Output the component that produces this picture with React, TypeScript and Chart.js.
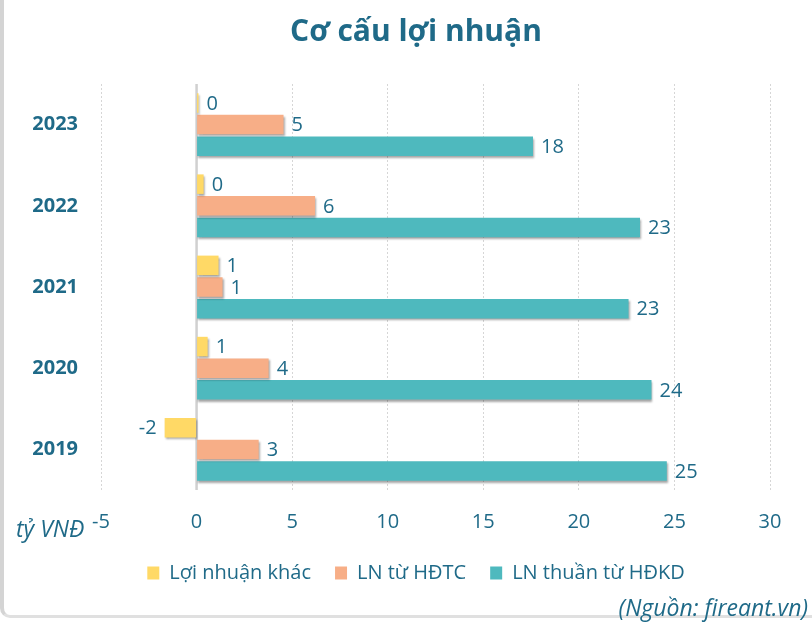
import React, { useEffect, useRef } from "react";
import { Chart, registerables } from "chart.js";

Chart.register(...registerables);

const years = ["2023", "2022", "2021", "2020", "2019"];
const seriesNames = ["Lợi nhuận khác", "LN từ HĐTC", "LN thuần từ HĐKD"];
const otherProfit = [0.1, 0.37, 1.15, 0.58, -1.67];
const financialProfit = [4.55, 6.2, 1.36, 3.77, 3.25];
const operatingProfit = [17.6, 23.2, 22.6, 23.8, 24.6];
const xTicksMin = -5;
const xTicksMax = 30;
const xTickStep = 5;
const titleText = "Cơ cấu lợi nhuận";
const unitText = "tỷ VNĐ";
const sourceText = "(Nguồn: fireant.vn)";

const colors = ["#FFD966", "#F7AE87", "#4EB9BE"];
const textColor = "#1f6a88";
const FONT = "'Open Sans', 'Noto Sans', sans-serif";

export default function App() {
  const ref = useRef<HTMLCanvasElement | null>(null);

  useEffect(() => {
    const canvas = ref.current;
    if (!canvas) return;

    const extras = {
      id: "extras",
      beforeDatasetsDraw(chart: any) {
        const ctx = chart.ctx;
        ctx.save();
        ctx.shadowColor = "rgba(0,0,0,0.35)";
        ctx.shadowOffsetX = 1;
        ctx.shadowOffsetY = 2;
        ctx.shadowBlur = 2;
      },
      afterDatasetsDraw(chart: any) {
        const ctx = chart.ctx;
        ctx.restore();
        ctx.save();
        ctx.font = `20px ${FONT}`;
        ctx.fillStyle = textColor;
        ctx.textBaseline = "middle";
        chart.data.datasets.forEach((ds: any, di: number) => {
          const meta = chart.getDatasetMeta(di);
          meta.data.forEach((el: any, i: number) => {
            const v = ds.data[i] as number;
            const label = String(Math.round(v));
            if (v >= 0) {
              ctx.textAlign = "left";
              ctx.fillText(label, el.x + 8, el.y + 1);
            } else {
              ctx.textAlign = "right";
              ctx.fillText(label, el.x - 8, el.y + 1);
            }
          });
        });
        ctx.restore();
      },
      afterDraw(chart: any) {
        const ctx = chart.ctx;
        ctx.save();
        ctx.fillStyle = textColor;
        ctx.textBaseline = "middle";
        ctx.font = `italic 23px ${FONT}`;
        ctx.textAlign = "left";
        ctx.fillText(unitText, 16, 530);
        ctx.textAlign = "right";
        ctx.fillText(sourceText, 808, 609);
        ctx.restore();
      },
    };

    const zeroLine = {
      id: "zeroLine",
      beforeDatasetsDraw(chart: any) {
        const xs = chart.scales.x;
        const area = chart.chartArea;
        const px = xs.getPixelForValue(0);
        const ctx = chart.ctx;
        ctx.save();
        ctx.strokeStyle = "#d0d0d0";
        ctx.lineWidth = 2.5;
        ctx.beginPath();
        ctx.moveTo(px, area.top);
        ctx.lineTo(px, area.bottom);
        ctx.stroke();
        ctx.restore();
      },
    };

    const chart = new Chart(canvas, {
      type: "bar",
      data: {
        labels: years,
        datasets: [
          { label: seriesNames[0], data: otherProfit, backgroundColor: colors[0] },
          { label: seriesNames[1], data: financialProfit, backgroundColor: colors[1] },
          { label: seriesNames[2], data: operatingProfit, backgroundColor: colors[2] },
        ],
      },
      options: {
        indexAxis: "y",
        responsive: false,
        animation: false,
        devicePixelRatio: 1,
        layout: { padding: { left: 30, right: 10, top: 0, bottom: 29 } },
        datasets: {
          bar: { categoryPercentage: 0.8, barPercentage: 0.9 },
        },
        scales: {
          x: {
            min: xTicksMin,
            max: xTicksMax,
            ticks: {
              stepSize: xTickStep,
              color: textColor,
              font: { family: FONT, size: 20 },
              padding: 20,
            },
            grid: {
              color: "#d6d6d6",
              lineWidth: 1,
              drawTicks: false,
            },
            border: { display: false, dash: [2, 2] },
            afterFit(scale: any) {
              scale.height = 49;
            },
          },
          y: {
            ticks: {
              color: textColor,
              font: { family: FONT, size: 20, weight: "bold" },
              padding: 23,
            },
            grid: { display: false, drawTicks: false },
            border: { display: false },
            afterFit(scale: any) {
              scale.width = 71;
            },
          },
          yRight: {
            type: "category",
            axis: "y",
            position: "right",
            ticks: { display: false },
            grid: { display: false, drawTicks: false },
            border: { display: false },
            afterFit(scale: any) {
              scale.width = 32;
            },
          },
        },
        plugins: {
          title: {
            display: true,
            text: titleText,
            color: textColor,
            font: { family: FONT, size: 30, weight: "bold" },
            padding: { top: 14, bottom: 34 },
          },
          legend: {
            position: "bottom",
            labels: {
              boxWidth: 12,
              boxHeight: 13,
              padding: 24,
              color: textColor,
              font: { family: FONT, size: 20 },
            },
          },
          tooltip: { enabled: false },
        },
      },
      plugins: [zeroLine, extras],
    } as any);

    return () => chart.destroy();
  }, []);

  return (
    <div style={{ position: "fixed", left: 0, top: 0, width: 812, height: 622, background: "#fff", overflow: "hidden" }}>
      <div
        style={{
          position: "absolute",
          left: 0,
          top: -30,
          width: 900,
          height: 648,
          borderLeft: "4px solid #d4d4d4",
          borderBottom: "3px solid #e0e0e0",
          borderRadius: 10,
          boxSizing: "border-box",
        }}
      />
      <canvas ref={ref} width={812} height={622} style={{ position: "absolute", left: 0, top: 0 }} />
    </div>
  );
}
